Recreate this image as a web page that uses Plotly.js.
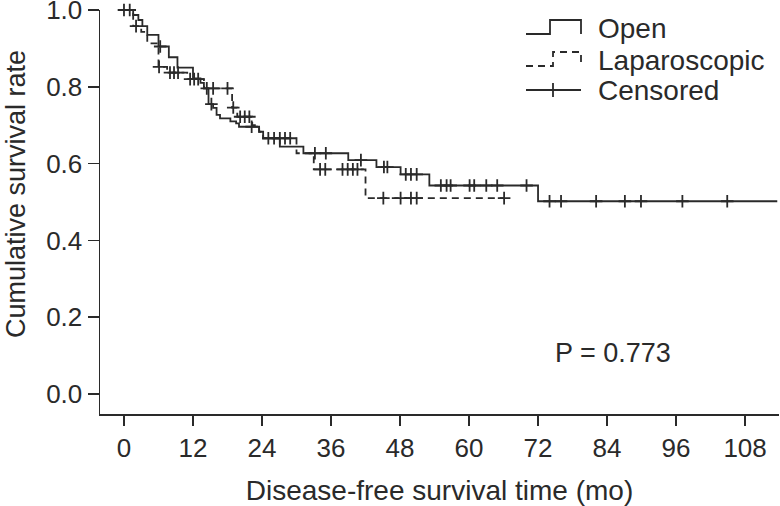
<!DOCTYPE html>
<html><head><meta charset="utf-8">
<script src="https://cdn.plot.ly/plotly-3.0.1.min.js"></script>
<style>html,body{margin:0;padding:0;background:#fff}</style>
</head><body><div id="chart" style="width:780px;height:506px"></div>
<script>
// ---- data ----
const openTimes = [0,1.6,2.5,3.2,4.05,6.0,7.8,9.3,12.0,13.3,13.9,14.7,15.5,16.1,16.7,18.5,19.5,20.0,23.5,24.2,27.1,31.2,39.0,43.9,48.1,53.1,72.0];
const openSurv  = [1.0,0.987,0.974,0.958,0.935,0.905,0.877,0.85,0.822,0.81,0.796,0.755,0.745,0.727,0.718,0.71,0.705,0.696,0.683,0.666,0.644,0.627,0.609,0.591,0.572,0.543,0.502];
const openEnd = 113.6;
const openCensor = [0,1.0,6.3,15.2,22.2,33.2,35.1,41.2,45.2,45.8,49.0,49.9,50.9,55.1,56.1,56.8,60.1,60.9,63.0,64.9,70.0,74.0,76.0,82.1,87.1,89.9,97.1,104.9];

const lapTimes = [0,1.6,3.0,4.05,6.0,7.5,11.0,13.9,18.8,19.7,22.3,23.5,24.2,30.0,33.0,42.0];
const lapSurv  = [1.0,0.958,0.943,0.913,0.852,0.837,0.82,0.796,0.746,0.722,0.70,0.683,0.666,0.627,0.585,0.51];
const lapEnd = 66.1;
const lapCensor = [2.1,6.1,8.0,8.7,9.4,11.5,12.2,12.9,14.4,15.5,18.0,19.0,20.2,21.0,21.8,25.1,26.1,27.1,28.0,28.9,34.1,35.0,38.0,38.9,39.8,40.6,45.1,48.1,49.9,50.9,66.1];

const xTicks = [0,12,24,36,48,60,72,84,96,108];
const yTicks = [0,0.2,0.4,0.6,0.8,1.0];
const legendNames = ["Open","Laparoscopic","Censored"];
const pValueText = "P = 0.773";

// ---- helpers ----
function stepAt(times, surv, t){ let v = surv[0]; for(let i=0;i<times.length;i++){ if(times[i]<=t) v=surv[i]; } return v; }
const INK = "#2a2a2a";
const FONT = "Liberation Sans, Arial, sans-serif";

const traces = [
  {x: openTimes.concat([openEnd]), y: openSurv.concat([openSurv[openSurv.length-1]]), mode:"lines",
   line:{shape:"hv", color:INK, width:1.8}, cliponaxis:false, showlegend:false, hoverinfo:"skip"},
  {x: lapTimes.concat([lapEnd]), y: lapSurv.concat([lapSurv[lapSurv.length-1]]), mode:"lines",
   line:{shape:"hv", color:INK, width:1.8, dash:"7px,5px"}, cliponaxis:false, showlegend:false, hoverinfo:"skip"},
  {x: openCensor, y: openCensor.map(t=>stepAt(openTimes,openSurv,t)), mode:"markers",
   marker:{symbol:"cross-thin", size:9, line:{color:INK, width:1.8}}, cliponaxis:false, showlegend:false},
  {x: lapCensor, y: lapCensor.map(t=>stepAt(lapTimes,lapSurv,t)), mode:"markers",
   marker:{symbol:"cross-thin", size:9, line:{color:INK, width:1.8}}, cliponaxis:false, showlegend:false}
];

// plot area in pixels: x 100..779, y 10..414
const L=100, R=779, T=10, B=414;
const px = v => (v-L)/(R-L);
const py = v => (B-v)/(B-T);

const shapes = [
  {type:"path", xref:"paper", yref:"paper",
   path:`M ${px(526)} ${py(34)} L ${px(550)} ${py(34)} L ${px(550)} ${py(20)} L ${px(581)} ${py(20)} L ${px(581)} ${py(34)}`,
   line:{color:INK, width:1.8}},
  {type:"path", xref:"paper", yref:"paper",
   path:`M ${px(526)} ${py(66)} L ${px(553)} ${py(66)} L ${px(553)} ${py(52)} L ${px(581)} ${py(52)} L ${px(581)} ${py(66)}`,
   line:{color:INK, width:1.8, dash:"7px,5px"}},
  {type:"line", xref:"paper", yref:"paper", x0:px(526), x1:px(581), y0:py(90), y1:py(90), line:{color:INK, width:1.8}},
  {type:"line", xref:"paper", yref:"paper", x0:px(553), x1:px(553), y0:py(83), y1:py(97), line:{color:INK, width:1.8}}
];

const legendY = [28, 60, 91];
const annotations = legendNames.map((n,i)=>({
  text:n, xref:"paper", yref:"paper", x:px(596), y:py(legendY[i]), xanchor:"left", yanchor:"middle",
  showarrow:false, font:{family:FONT, size:28, color:INK}
}));
annotations.push({text:pValueText, xref:"x", yref:"y", x:85, y:0.107, xanchor:"center", yanchor:"middle",
  showarrow:false, font:{family:FONT, size:27, color:INK}});
annotations.push({text:"Cumulative survival rate", xref:"paper", yref:"paper", x:px(16), y:py(194),
  xanchor:"center", yanchor:"middle", textangle:-90, showarrow:false, font:{family:FONT, size:27, color:INK}});

const layout = {
  width:780, height:506,
  margin:{l:L, r:780-R, t:T, b:506-B},
  paper_bgcolor:"#fff", plot_bgcolor:"#fff",
  font:{family:FONT, color:INK},
  xaxis:{range:[-4.17,113.9], tickvals:xTicks, ticktext:xTicks.map(String), ticks:"outside", ticklen:10, tickwidth:1.5,
    tickcolor:INK, showline:true, linecolor:INK, linewidth:1.5, showgrid:false, zeroline:false,
    tickfont:{family:FONT, size:26, color:INK},
    title:{text:"Disease-free survival time (mo)", font:{family:FONT, size:28, color:INK}, standoff:18}},
  yaxis:{range:[-0.0521,1.0], tickvals:yTicks, ticktext:yTicks.map(v=>v.toFixed(1)), ticks:"outside", ticklen:11, tickwidth:1.5,
    tickcolor:INK, showline:true, linecolor:INK, linewidth:1.5, showgrid:false, zeroline:false,
    ticklabeloverflow:"allow", tickfont:{family:FONT, size:26, color:INK}},
  shapes:shapes, annotations:annotations
};

Plotly.newPlot("chart", traces, layout, {staticPlot:true, displayModeBar:false});
</script></body></html>
